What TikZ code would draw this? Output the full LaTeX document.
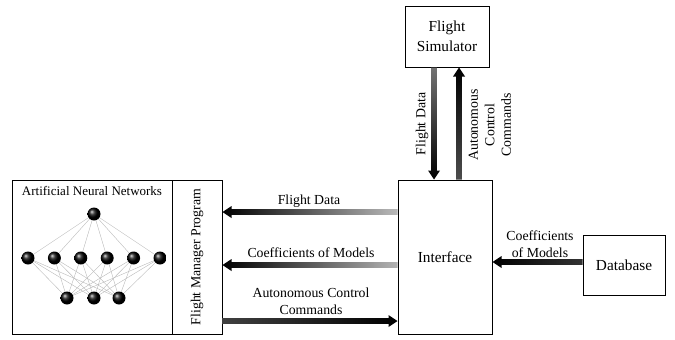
\documentclass[tikz,border=0pt]{standalone}
\usepackage{fontspec}
\setmainfont{Liberation Serif}
\usetikzlibrary{calc,backgrounds}

\tikzset{
  block/.style={draw, line width=1pt, align=center, inner sep=0pt, font=\fontsize{15.3}{20}\selectfont},
  lbl/.style={align=center, inner sep=0pt, font=\fontsize{13.8}{16.5}\selectfont},
  neuron/.style={circle, inner sep=0pt, minimum size=13pt, shading=ball, ball color=black},
  link/.style={gray!55, line width=0.4pt},
}

% thick shaded arrow from #2 (tail) to #3 (head), #1 = shading colours
\newcommand{\flowarrow}[3][]{%
  \coordinate (hb) at ($(#3)!9pt!(#2)$);
  \shade[#1] ($(#2)!2.8pt!90:(#3)$) -- ($(hb)!2.8pt!-90:(#2)$) -- ($(hb)!6pt!-90:(#2)$)
    -- (#3) -- ($(hb)!6pt!90:(#2)$) -- ($(hb)!2.8pt!90:(#2)$) -- ($(#2)!2.8pt!-90:(#3)$) -- cycle;
}

\begin{document}
\begin{tikzpicture}[x=1pt, y=-1pt]
    \useasboundingbox (0,0) rectangle (675,340);

    % boxes
    \node[block, minimum width=160pt, minimum height=154pt] (ann) at (92,257) {};
    \node[block, minimum width=50pt, minimum height=154pt] (fmp) at (197,257) {};
    \node[rotate=90, lbl] (fmptext) at (fmp.center) {Flight Manager Program};
    \node[block, minimum width=84pt, minimum height=61pt] (sim) at (447,36.5) {Flight\\Simulator};
    \node[block, minimum width=94pt, minimum height=154pt] (iface) at (445,257) {Interface};
    \node[block, minimum width=82pt, minimum height=60pt] (db) at (624,265) {Database};

    % the network
    \node[lbl, font=\fontsize{13}{15}\selectfont] (anntitle) at (92,191) {Artificial Neural Networks};
    \node[neuron] (out) at (94,214) {};
    \foreach \i/\x in {1/28, 2/54.4, 3/80.8, 4/107.2, 5/133.6, 6/160}
        \node[neuron] (h\i) at (\x,258) {};
    \foreach \i/\x in {1/67, 2/94, 3/119}
        \node[neuron] (in\i) at (\x,298) {};
    \begin{pgfonlayer}{background}
    \foreach \i in {1,...,6} {
        \draw[link] (out.center) -- (h\i.center);
        \foreach \j in {1,2,3}
            \draw[link] (h\i.center) -- (in\j.center);
    }
    \end{pgfonlayer}

    % rows and columns of the arrows
    \coordinate (fdrow) at (0,212);
    \coordinate (cmrow) at (0,265);
    \coordinate (acrow) at (0,321);
    \coordinate (dbrow) at (0,262);
    \coordinate (dncol) at (434,0);
    \coordinate (upcol) at (459,0);

    \flowarrow[left color=black, middle color=black, right color=gray!55]{iface.west |- fdrow}{fmp.east |- fdrow}
    \flowarrow[left color=black, middle color=black, right color=gray!60]{iface.west |- cmrow}{fmp.east |- cmrow}
    \flowarrow[left color=black!75, right color=black]{fmp.east |- acrow}{iface.west |- acrow}
    \flowarrow[left color=black, right color=black!80]{db.west |- dbrow}{iface.east |- dbrow}
    \flowarrow[top color=black!55, bottom color=black]{sim.south -| dncol}{iface.north -| dncol}
    \flowarrow[top color=black, middle color=black, bottom color=black!70]{iface.north -| upcol}{sim.south -| upcol}

    % labels
    \node[lbl] (lfd) at (309,201) {Flight Data};
    \node[lbl] (lcm) at (311,253) {Coefficients of Models};
    \node[lbl] (lac) at (311,301.5) {Autonomous Control\\Commands};
    \node[lbl] (ldb) at (540,244) {Coefficients\\of Models};
    \node[lbl, rotate=90] (lsimfd) at (422,124) {Flight Data};
    \node[lbl, rotate=90] (lsimac) at (490,125) {Autonomous\\Control\\Commands};
\end{tikzpicture}
\end{document}
